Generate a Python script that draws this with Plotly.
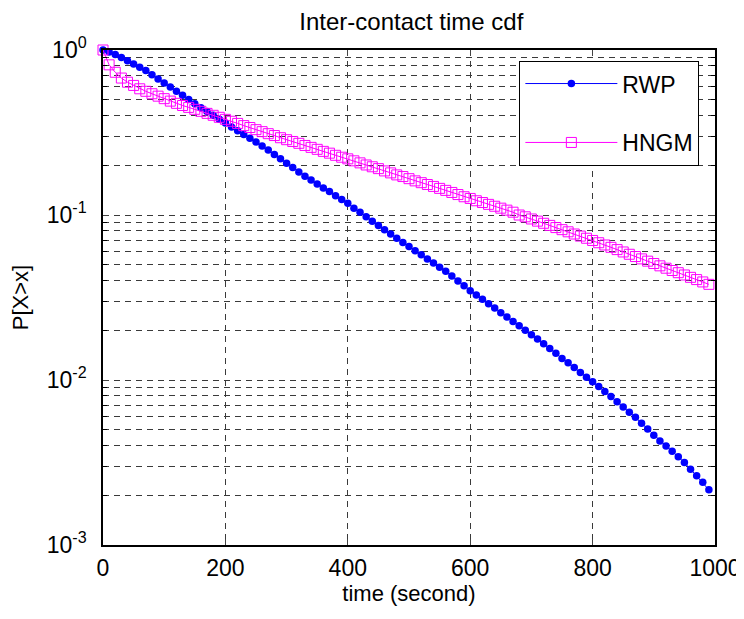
import plotly.graph_objects as go

# ---- data ----
time_s = [i * 10 for i in range(100)]  # 0, 10, ..., 990 seconds

rwp = [1.000, 0.973, 0.938, 0.902, 0.861, 0.822, 0.785, 0.750, 0.708, 0.668,
       0.631, 0.596, 0.562, 0.531, 0.501, 0.473, 0.447, 0.424, 0.402, 0.380,
       0.361, 0.342, 0.324, 0.308, 0.292, 0.277, 0.262, 0.248, 0.233, 0.219,
       0.206, 0.194, 0.182, 0.172, 0.163, 0.154, 0.146, 0.139, 0.131, 0.124,
       0.118, 0.110, 0.104, 0.0975, 0.0918, 0.0865, 0.0813, 0.0766, 0.0723, 0.0682,
       0.0644, 0.0608, 0.0574, 0.0542, 0.0512, 0.0483, 0.0456, 0.0427, 0.0398, 0.0372,
       0.0348, 0.0328, 0.0309, 0.0290, 0.0273, 0.0256, 0.0241, 0.0226, 0.0213, 0.0200,
       0.0188, 0.0177, 0.0166, 0.0155, 0.0145, 0.0135, 0.0127, 0.0119, 0.0111, 0.0104,
       0.00977, 0.00912, 0.00851, 0.00794, 0.00738, 0.00687, 0.00638, 0.00594, 0.00547, 0.00504,
       0.00463, 0.00427, 0.00398, 0.00370, 0.00343, 0.00316, 0.00288, 0.00263, 0.00240, 0.00216]

hngm = [1.000, 0.813, 0.733, 0.676, 0.638, 0.610, 0.582, 0.562, 0.543, 0.525,
        0.507, 0.490, 0.475, 0.461, 0.449, 0.437, 0.425, 0.413, 0.402, 0.391,
        0.380, 0.370, 0.359, 0.348, 0.339, 0.329, 0.320, 0.311, 0.303, 0.294,
        0.286, 0.279, 0.272, 0.264, 0.257, 0.250, 0.243, 0.237, 0.230, 0.224,
        0.219, 0.213, 0.207, 0.201, 0.196, 0.191, 0.185, 0.180, 0.175, 0.171,
        0.166, 0.161, 0.157, 0.153, 0.149, 0.145, 0.141, 0.137, 0.133, 0.129,
        0.126, 0.122, 0.119, 0.116, 0.113, 0.110, 0.107, 0.104, 0.100, 0.0975,
        0.0946, 0.0918, 0.0891, 0.0865, 0.0839, 0.0815, 0.0791, 0.0767, 0.0745, 0.0723,
        0.0701, 0.0679, 0.0658, 0.0637, 0.0617, 0.0597, 0.0578, 0.0560, 0.0542, 0.0525,
        0.0508, 0.0492, 0.0476, 0.0461, 0.0447, 0.0433, 0.0419, 0.0406, 0.0393, 0.0380]

x_ticks = [0, 200, 400, 600, 800, 1000]
y_tickvals = [0.001, 0.01, 0.1, 1]
y_ticktext = ["10<sup>-3</sup>", "10<sup>-2</sup>", "10<sup>-1</sup>", "10<sup>0</sup>"]

FONT = "Liberation Sans, Arial, sans-serif"
GRID = "#3a3a3a"

fig = go.Figure()
fig.add_trace(go.Scatter(
    x=time_s, y=rwp, name="RWP", mode="lines+markers",
    line=dict(color="#0000FF", width=1),
    marker=dict(symbol="circle", size=7.5, color="#0000FF"),
    cliponaxis=False, legendgroup="a",
))
fig.add_trace(go.Scatter(
    x=time_s, y=hngm, name="HNGM", mode="lines+markers",
    line=dict(color="#FF00FF", width=1),
    marker=dict(symbol="square-open", size=10, color="#FF00FF", line=dict(width=1)),
    cliponaxis=False, legendgroup="b",
))

# the page body has an 8px default margin (left/top), so the figure is sized to fit the window
fig.update_layout(
    width=736, height=611,
    margin=dict(l=95, r=29, t=42, b=74),
    paper_bgcolor="white", plot_bgcolor="white",
    font=dict(family=FONT, size=23, color="black"),
    title=dict(text="Inter-contact time cdf", x=0.548, xanchor="center", y=0.977, yanchor="middle",
               font=dict(size=24)),
    showlegend=True,
    legend=dict(x=0.68, y=0.978, xanchor="left", yanchor="top",
                bgcolor="white", bordercolor="black", borderwidth=1.2,
                font=dict(size=23), tracegroupgap=26, itemwidth=92,
                traceorder="grouped"),
)

fig.update_xaxes(
    range=[0, 1000], tickvals=x_ticks, ticks="inside", ticklen=6,
    showline=True, linecolor="black", linewidth=1.5, mirror="ticks",
    showgrid=True, gridcolor=GRID, griddash="6px,5px", gridwidth=1,
    zeroline=False, automargin=False, ticklabelstandoff=2,
    ticklabeloverflow="allow",
    title=dict(text="time (second)", standoff=2, font=dict(size=22)),
    tickfont=dict(size=23),
)
fig.update_yaxes(
    type="log", range=[-3, 0], tickvals=y_tickvals, ticktext=y_ticktext,
    ticks="inside", ticklen=6,
    showline=True, linecolor="black", linewidth=1.5, mirror="ticks",
    showgrid=True, gridcolor=GRID, griddash="6px,5px", gridwidth=1,
    minor=dict(dtick="D1", showgrid=True, gridcolor=GRID, griddash="6px,5px",
               ticks="inside", ticklen=4, tickcolor="black"),
    zeroline=False, automargin=False, ticklabelstandoff=10,
    title=dict(text="P[X>x]", standoff=14, font=dict(size=22)),
    tickfont=dict(size=23),
)

fig.write_html("out.html")
